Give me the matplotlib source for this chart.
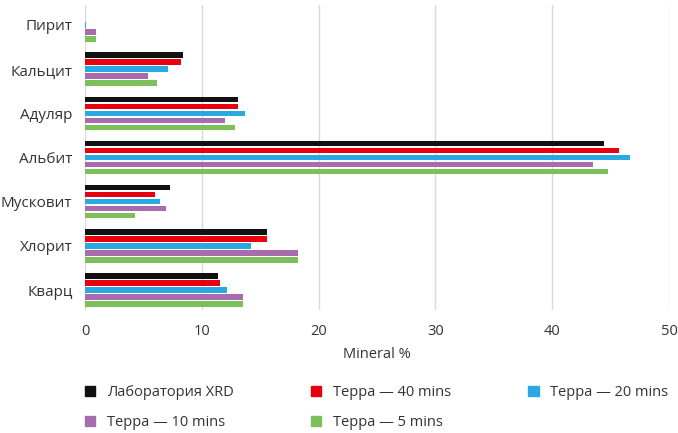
import matplotlib
matplotlib.use("Agg")
import matplotlib.pyplot as plt
from matplotlib.patches import Patch
import numpy as np

minerals = ["Пирит", "Кальцит", "Адуляр", "Альбит", "Мусковит", "Хлорит", "Кварц"]
series = ["Лаборатория XRD", "Терра — 40 mins", "Терра — 20 mins",
          "Терра — 10 mins", "Терра — 5 mins"]
xrd = [0.0, 8.4, 13.1, 44.4, 7.3, 15.6, 11.4]
t40 = [0.0, 8.2, 13.1, 45.7, 6.0, 15.6, 11.6]
t20 = [0.12, 7.1, 13.7, 46.7, 6.4, 14.2, 12.2]
t10 = [0.9, 5.4, 12.0, 43.5, 6.9, 18.2, 13.5]
t5 = [0.9, 6.2, 12.8, 44.8, 4.3, 18.2, 13.5]
colors = ["#111111", "#e8000f", "#29a9e1", "#a86bad", "#7cbf5b"]

plt.rcParams['font.family'] = ['Open Sans', 'DejaVu Sans']

fig = plt.figure(figsize=(6.78, 4.33), dpi=100)
ax = fig.add_axes([85/678, 1-310/433, (669-85)/678, (310-5)/433])

y = np.arange(len(minerals))
pitch = 0.158
for i, vals in enumerate([xrd, t40, t20, t10, t5]):
    ax.barh(y + (i - 2) * pitch, vals, height=0.125, color=colors[i],
            label=series[i], zorder=3)

ax.set_ylim(6.45, -0.45)
ax.set_xlim(0, 50)
ax.set_xticks([0, 10, 20, 30, 40, 50])
ax.set_yticks(y)
ax.set_yticklabels(minerals, fontsize=11, color="#333333")
ax.tick_params(axis='y', length=0, pad=9)
ax.tick_params(axis='x', length=0, pad=10, labelsize=10.5, labelcolor="#333333")
ax.grid(axis='x', color="#d9d9d9", lw=1, zorder=0)
for s in ax.spines.values():
    s.set_visible(False)
ax.set_xlabel("Mineral %", fontsize=10.5, color="#333333", labelpad=6)

handles = [Patch(color=c) for c in colors]
order = [0, 3, 1, 4, 2]
fig.legend([handles[k] for k in order], [series[k] for k in order],
           ncol=3, loc='upper left', bbox_to_anchor=(72/678, 1-372/433),
           frameon=False, fontsize=10.5, handlelength=0.7, handleheight=0.7,
           handletextpad=0.8, columnspacing=5.3, labelspacing=1.0,
           labelcolor="#333333")

fig.savefig("out.png", dpi=100)
